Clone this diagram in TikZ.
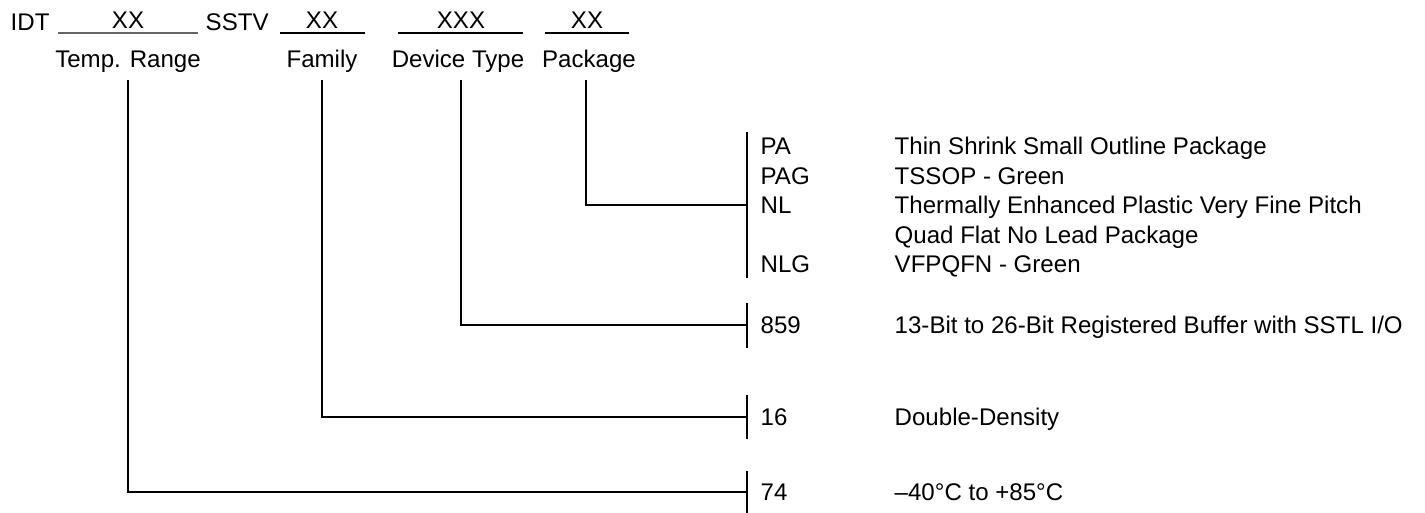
\documentclass[tikz,border=0pt]{standalone}
\usepackage{fontspec}
\setmainfont{Liberation Sans}
\usepackage{tikz}

\begin{document}
\begin{tikzpicture}[line width=0.8pt,
        every node/.style={font=\fontsize{13.7}{16.4}\selectfont, inner sep=0pt},
        field/.style={anchor=base},
        code/.style={anchor=base west}]
        \useasboundingbox (0,0) rectangle (28.5,-10.24);
        % part number
        \node[code] (idt) at (0.2,-0.6) {IDT};
        \node[code] (sstv) at (4.1,-0.6) {SSTV};
        \node[field] (xtemp) at (2.56,-0.56) {XX};
        \node[field] (xfam) at (6.44,-0.56) {XX};
        \node[field] (xdev) at (9.22,-0.56) {XXX};
        \node[field] (xpkg) at (11.74,-0.56) {XX};
        \draw[black!60] (1.16,-0.66) -- (3.96,-0.66);
        \draw (5.6,-0.66) -- (7.3,-0.66);
        \draw (7.96,-0.66) -- (10.46,-0.66);
        \draw (10.9,-0.66) -- (12.58,-0.66);
        \node[field] (temp) at (2.56,-1.34) {Temp. Range};
        \node[field] (family) at (6.44,-1.34) {Family};
        \node[field] (devtype) at (9.16,-1.34) {Device Type};
        \node[field] (pkg) at (11.78,-1.34) {Package};
        % leader lines
        \coordinate (dtemp) at (2.56,-1.6);
        \coordinate (dfam) at (6.44,-1.6);
        \coordinate (ddev) at (9.22,-1.6);
        \coordinate (dpkg) at (11.72,-1.6);
        \coordinate (jpkg) at (14.94,-4.1);
        \coordinate (jdev) at (14.94,-6.5);
        \coordinate (jfam) at (14.94,-8.34);
        \coordinate (jtemp) at (14.94,-9.84);
        \draw (dpkg) |- (jpkg);
        \draw (ddev) |- (jdev);
        \draw (dfam) |- (jfam);
        \draw (dtemp) |- (jtemp);
        \draw ([yshift=1.46cm]jpkg) -- ([yshift=-1.46cm]jpkg);
        \draw ([yshift=0.45cm]jdev) -- ([yshift=-0.45cm]jdev);
        \draw ([yshift=0.44cm]jfam) -- ([yshift=-0.44cm]jfam);
        \draw ([yshift=0.42cm]jtemp) -- ([yshift=-0.44cm]jtemp);
        % package
        \node[code] (pa) at (15.2,-3.09) {PA};
        \node[code] (pag) at (15.2,-3.68) {PAG};
        \node[code] (nl) at (15.2,-4.27) {NL};
        \node[code] (nlg) at (15.2,-5.45) {NLG};
        \node[code] (tpa) at (17.88,-3.09) {Thin Shrink Small Outline Package};
        \node[code] (tpag) at (17.88,-3.68) {TSSOP - Green};
        \node[code] (tnl) at (17.88,-4.27) {Thermally Enhanced Plastic Very Fine Pitch};
        \node[code] (tnl2) at (17.88,-4.86) {Quad Flat No Lead Package};
        \node[code] (tnlg) at (17.88,-5.45) {VFPQFN - Green};
        % device type
        \node[code] (c859) at (15.2,-6.67) {859};
        \node[code] (t859) at (17.88,-6.67) {13-Bit to 26-Bit Registered Buffer with SSTL I/O};
        % family
        \node[code] (c16) at (15.2,-8.51) {16};
        \node[code] (t16) at (17.88,-8.51) {Double-Density};
        % temperature
        \node[code] (c74) at (15.2,-10.01) {74};
        \node[code] (t74) at (17.88,-10.01) {–40°C to +85°C};
\end{tikzpicture}
\end{document}
